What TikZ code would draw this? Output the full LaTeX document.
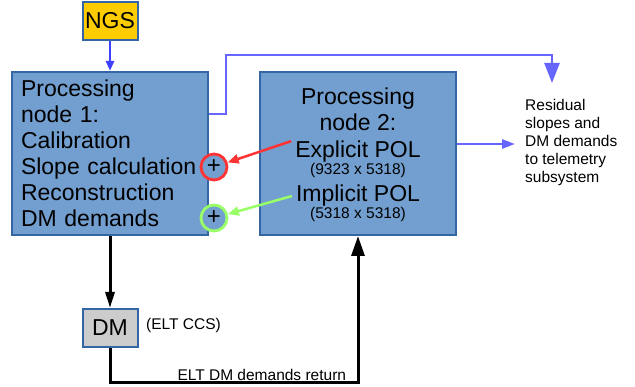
\documentclass[tikz,border=0pt]{standalone}
\usepackage{fontspec}
\setmainfont{Liberation Sans}
\usepackage{tikz}
\usetikzlibrary{arrows.meta, positioning, calc}
\definecolor{boxfill}{RGB}{114,159,207}
\definecolor{boxline}{RGB}{52,101,164}
\definecolor{ngsfill}{RGB}{255,204,0}
\definecolor{dmfill}{RGB}{204,204,204}
\definecolor{ngsblue}{RGB}{64,64,255}
\definecolor{outblue}{RGB}{102,102,255}
\definecolor{polred}{RGB}{255,51,51}
\definecolor{polgreen}{RGB}{153,255,102}

\begin{document}
\begin{tikzpicture}[
    x=1pt, y=-1pt,
    proc/.style={draw=boxline, line width=2pt, fill=boxfill, minimum width=196pt, minimum height=163pt, inner sep=0pt},
    small/.style={draw=boxline, line width=2pt, minimum width=55pt, minimum height=38pt, inner sep=0pt, font=\fontsize{23}{26}\selectfont},
    big/.style={font=\fontsize{23}{26}\selectfont, inner xsep=4pt, inner ysep=0pt},
    note/.style={font=\fontsize{15.5}{18}\selectfont, inner sep=1pt},
    plus/.style={circle, line width=2.8pt, fill=boxfill, minimum size=26pt, inner sep=0pt, font=\fontsize{24}{24}\selectfont},
    flow/.style={-{Triangle[length=13pt,width=9pt]}, line width=2.5pt, outblue},
    feed/.style={-{Triangle[length=11pt,width=9pt]}, line width=2.5pt},
    dmarrow/.style={-{Triangle[length=16pt,width=9pt]}, line width=3pt, black}
]
    \useasboundingbox (0,0) rectangle (635,387);

    % Sensor and processing nodes
    \node[small, fill=ngsfill] (ngs) at (110,21) {NGS};
    \node[proc, align=left, text width=178pt, inner xsep=9pt, font=\fontsize{23}{26}\selectfont] (node1) at (110,153.5)
        {Processing\\node 1:\\Calibration\\Slope calculation\\Reconstruction\\DM demands};
    \node[proc] (node2) at (358,153.5) {};

    % Texts of processing node 2
    \node[big, anchor=base, align=center] (title2) at (358,131) {Processing\\node 2:};
    \node[big, anchor=base] (explicit) at (358,158) {Explicit POL};
    \node[note, anchor=base] (explicitsize) at (358,175) {(9323 x 5318)};
    \node[big, anchor=base] (implicit) at (358,202) {Implicit POL};
    \node[note, anchor=base] (implicitsize) at (358,219) {(5318 x 5318)};

    % Points where the POL results are added
    \node[plus, draw=polred] (plusslope) at (214,167) {+};
    \node[plus, draw=polgreen] (plusdm) at (214,218) {+};

    % Telemetry and DM
    \node[note, anchor=west, align=left] (telemetry) at (524,142)
        {Residual\\slopes and\\DM demands\\to telemetry\\subsystem};
    \coordinate (telemin) at (552,83);
    \coordinate (telemout) at (515,144);
    \node[small, fill=dmfill] (dm) at (110,328) {DM};
    \node[note, anchor=west] (dmlabel) at (145,325) {(ELT CCS)};

    % Connections
    \draw[flow, ngsblue, -{Triangle[length=10pt,width=8pt]}] (ngs) -- (node1);
    \draw[flow, -{Triangle[length=20pt,width=15pt]}] ([yshift=39.5pt]node1.east) -| (226,55) -| (telemin);
    \draw[flow] (node2.east |- telemout) -- (telemout);
    \draw[feed, polred] (explicit.north west) -- (plusslope);
    \draw[feed, polgreen] (implicit.west) -- (plusdm);
    \draw[dmarrow] (node1) -- (dm);
    \draw[dmarrow, -{Triangle[length=20pt,width=13pt]}] (dm.south) -- ++(0,35)
        -| node[note, pos=0.306, anchor=south] {ELT DM demands return} (node2.south);
\end{tikzpicture}
\end{document}
